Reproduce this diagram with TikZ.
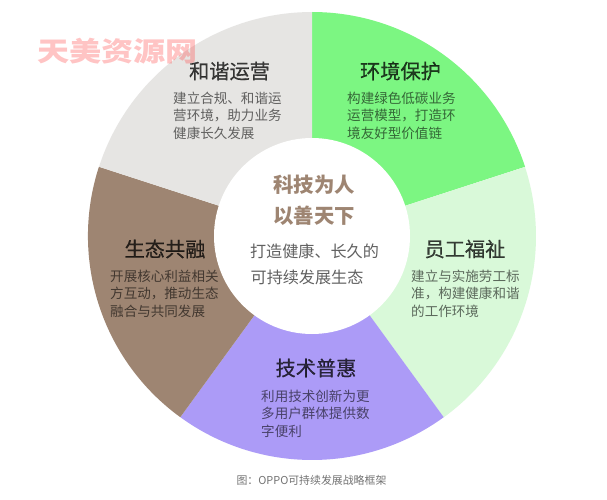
\documentclass[tikz,border=0pt]{standalone}
\usepackage{fontspec}
\setmainfont{Noto Sans CJK SC}
\newfontfamily\cjkmed[FakeBold=0.5]{Noto Sans CJK SC}
\definecolor{cgrey}{HTML}{E6E5E3}
\definecolor{cgreen}{HTML}{7CF682}
\definecolor{clight}{HTML}{D9F9D9}
\definecolor{cpurple}{HTML}{AC9BF7}
\definecolor{cbrown}{HTML}{9E8572}
\tikzset{
  x=1pt,y=-1pt,
  headtxt/.style={font=\cjkmed\fontsize{20.2}{20.2}\selectfont,text=black,text opacity=.75,inner sep=0pt,anchor=center},
  bodytxt/.style={font=\fontsize{13.55}{17.3}\selectfont,text=black,text opacity=.58,inner sep=0pt,anchor=north west,align=left},
  centretitle/.style={font=\fontsize{20.4}{20.4}\selectfont\bfseries,text=cbrown,inner sep=0pt},
  centrebody/.style={font=\fontsize{16.1}{16.1}\selectfont,text=black!62,inner sep=0pt},
}
\begin{document}
\begin{tikzpicture}
\useasboundingbox (0,0) rectangle (607,500);
\fill[white] (0,0) rectangle (607,500);
\fill[cgreen] (312,236) -- (312,12) arc[start angle=90,end angle=18,radius=224pt] -- cycle;
\fill[clight] (312,236) -- (525,167) arc[start angle=18,end angle=-54,radius=224pt] -- cycle;
\fill[cpurple] (312,236) -- (443.7,417.2) arc[start angle=-54,end angle=-126,radius=224pt] -- cycle;
\fill[cbrown] (312,236) -- (180.3,417.2) arc[start angle=-126,end angle=-198,radius=224pt] -- cycle;
\fill[cgrey] (312,236) -- (99,166.8) arc[start angle=162,end angle=90,radius=224pt] -- cycle;
\fill[white] (312,236) circle[radius=98pt];

\node[font=\fontsize{27}{27}\selectfont\bfseries,text=red!70!white,text opacity=.33,inner sep=0pt,xscale=1.19] (wm) at (117.5,51) {天美资源网};

\node[headtxt] (h1) at (229.5,71) {和谐运营};
\node[bodytxt] (b1) at (173,92) {建立合规、和谐运\\营环境，助力业务\\健康长久发展};

\node[headtxt] (h2) at (400.5,71) {环境保护};
\node[bodytxt] (b2) at (347,92) {构建绿色低碳业务\\运营模型，打造环\\境友好型价值链};

\node[headtxt] (h3) at (465,249) {员工福祉};
\node[bodytxt] (b3) at (411,270) {建立与实施劳工标\\准，构建健康和谐\\的工作环境};

\node[headtxt] (h4) at (316,368) {技术普惠};
\node[bodytxt] (b4) at (261,390) {利用技术创新为更\\多用户群体提供数\\字便利};

\node[headtxt] (h5) at (165,249) {生态共融};
\node[bodytxt] (b5) at (110,270) {开展核心利益相关\\方互动，推动生态\\融合与共同发展};

\node[centretitle] (c1) at (314,185) {科技为人};
\node[centretitle] (c2) at (314,216) {以善天下};
\node[centrebody] (c3) at (314.5,251) {打造健康、长久的};
\node[centrebody] (c4) at (307,277) {可持续发展生态};

\node[font=\fontsize{10.9}{10.9}\selectfont,text=black!55,inner sep=0pt] (cap) at (311.5,480) {图：OPPO可持续发展战略框架};
\end{tikzpicture}
\end{document}
